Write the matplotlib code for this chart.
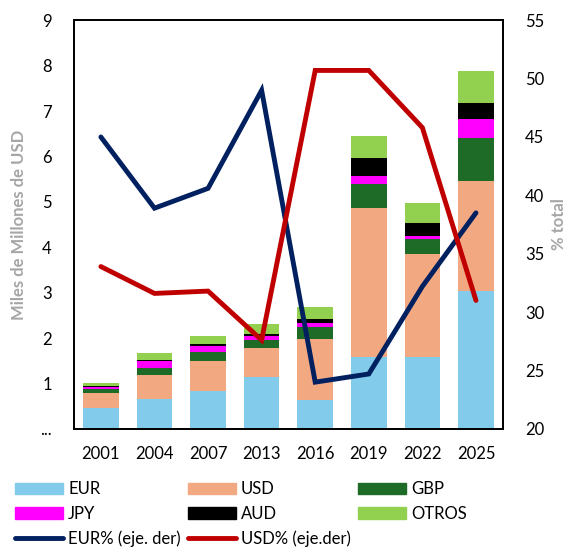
import matplotlib

matplotlib.use("Agg")
import matplotlib.pyplot as plt
import numpy as np
from matplotlib.lines import Line2D
from matplotlib.patches import Patch

plt.rcParams["font.family"] = ["Lato", "DejaVu Sans"]

years = ["2001", "2004", "2007", "2013", "2016", "2019", "2022", "2025"]
eur = [0.46, 0.66, 0.83, 1.14, 0.64, 1.58, 1.58, 3.03]
usd = [0.34, 0.53, 0.66, 0.63, 1.35, 3.28, 2.27, 2.44]
gbp = [0.08, 0.16, 0.20, 0.19, 0.25, 0.54, 0.34, 0.94]
jpy = [0.05, 0.15, 0.14, 0.08, 0.09, 0.16, 0.06, 0.41]
aud = [0.02, 0.01, 0.03, 0.06, 0.09, 0.40, 0.28, 0.36]
otros = [0.06, 0.17, 0.19, 0.22, 0.27, 0.50, 0.44, 0.70]
eur_pct = [45.0, 38.9, 40.6, 49.0, 24.0, 24.7, 32.2, 38.5]
usd_pct = [33.9, 31.6, 31.8, 27.6, 50.7, 50.7, 45.8, 31.0]

series = [
    ("EUR", eur, "#83CBEA"),
    ("USD", usd, "#F2A982"),
    ("GBP", gbp, "#1D6B26"),
    ("JPY", jpy, "#FF00FF"),
    ("AUD", aud, "#000000"),
    ("OTROS", otros, "#92D050"),
]

fig = plt.figure(figsize=(5.7, 5.47), dpi=100)
ax = fig.add_axes([0.130, 0.216, 0.752, 0.747])
ax2 = ax.twinx()

x = np.arange(len(years))
bottom = np.zeros(len(years))
for name, vals, color in series:
    ax.bar(x, vals, 0.665, bottom=bottom, color=color, zorder=2)
    bottom += np.array(vals)

ax2.plot(x, eur_pct, color="#002060", lw=3.5, solid_capstyle="round", solid_joinstyle="miter")
ax2.plot(x, usd_pct, color="#C00000", lw=3.5, solid_capstyle="round", solid_joinstyle="miter")

ax.set_xlim(-0.5, 7.5)
ax.set_ylim(0, 9)
ax2.set_ylim(20, 55)
ax.set_xticks(x, years)
ax.set_yticks(range(10), ["..."] + [str(i) for i in range(1, 10)])
ax2.set_yticks(range(20, 56, 5))
ax.tick_params(axis="both", length=0, labelsize=12)
ax.tick_params(axis="y", pad=16)
ax.tick_params(axis="x", pad=12)
ax2.tick_params(axis="y", length=0, labelsize=12, pad=16)
for a in (ax, ax2):
    for s in a.spines.values():
        s.set_linewidth(1.3)
        s.set_color("black")

ax.set_ylabel("Miles de Millones de USD", color="#A6A6A6", fontsize=12, fontweight="bold")
ax.yaxis.set_label_coords(-0.11, 0.5)
ax2.set_ylabel("% total", color="#A6A6A6", fontsize=12, fontweight="bold", rotation=90)
ax2.yaxis.set_label_coords(1.112, 0.5)

handles = {name: Patch(color=color) for name, _, color in series}
h_eur = Line2D([], [], color="#002060", lw=3.5, solid_capstyle="round")
h_usd = Line2D([], [], color="#C00000", lw=3.5, solid_capstyle="round")
order = [
    (handles["EUR"], "EUR"), (handles["JPY"], "JPY"), (h_eur, "EUR% (eje. der)"),
    (handles["USD"], "USD"), (handles["AUD"], "AUD"), (h_usd, "USD% (eje.der)"),
    (handles["GBP"], "GBP"), (handles["OTROS"], "OTROS"),
]
fig.legend([h for h, _ in order], [l for _, l in order], ncol=3, loc="lower left",
           bbox_to_anchor=(0.026, 0.0), frameon=False, fontsize=12,
           borderpad=0, borderaxespad=0,
           handlelength=2.9, handleheight=0.66, handletextpad=0.3,
           columnspacing=0.42, labelspacing=0.52)

fig.savefig("out.png", dpi=100)
plt.close(fig)
